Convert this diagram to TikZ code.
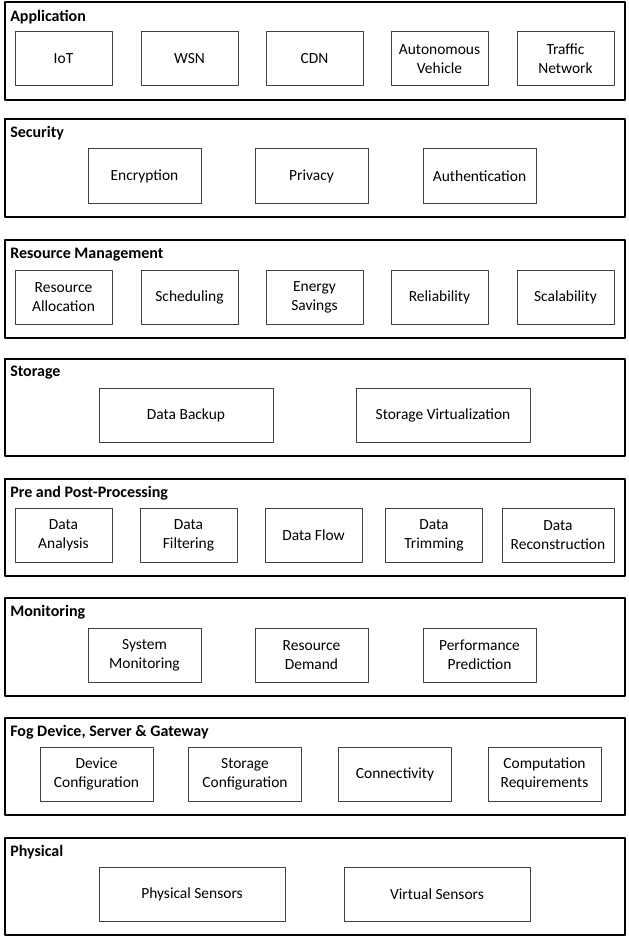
\documentclass[tikz,border=0pt]{standalone}
\usepackage{fontspec}
\setmainfont{Carlito}
\tikzset{
  layer/.style={draw, line width=1.5pt, minimum width=465pt, minimum height=73pt, inner sep=0pt},
  head/.style={anchor=west, font=\fontsize{12}{14}\selectfont\bfseries, inner sep=0pt},
  item/.style={draw=black!75, line width=.75pt, minimum width=72.75pt, minimum height=40.5pt, align=center, inner sep=1pt, font=\fontsize{11.6}{14.25}\selectfont},
  wide/.style={item, minimum width=84.75pt},
}
\begin{document}
\begin{tikzpicture}[x=.75pt, y=-.75pt, line join=round]
	\useasboundingbox (0,0) rectangle (628,938);
	% Application
	\node[layer] (app) at (314.5,51) {};
	\node[head] (tapp) at (10,17) {Application};
	\node[item] (iot) at (63.5,59) {IoT};
	\node[item] (wsn) at (189.5,59) {WSN};
	\node[item] (cdn) at (314.5,59) {CDN};
	\node[item] (auto) at (439.5,59) {Autonomous\\Vehicle};
	\node[item] (traf) at (565.5,59) {Traffic\\Network};
	% Security
	\node[layer] (sec) at (314.5,168) {};
	\node[head] (tsec) at (10,133) {Security};
	\node[wide] (enc) at (144.5,176) {Encryption};
	\node[wide] (priv) at (311.5,176) {Privacy};
	\node[wide] (auth) at (479.5,176) {Authentication};
	% Resource Management
	\node[layer] (res) at (314.5,289) {};
	\node[head] (tres) at (10,255) {Resource Management};
	\node[item] (ralloc) at (63.5,297) {Resource\\Allocation};
	\node[item] (sched) at (189.5,297) {Scheduling};
	\node[item] (energy) at (314.5,297) {Energy\\Savings};
	\node[item] (rel) at (439.5,297) {Reliability};
	\node[item] (scal) at (565.5,297) {Scalability};
	% Storage
	\node[layer] (sto) at (314.5,407.5) {};
	\node[head] (tsto) at (10,373) {Storage};
	\node[item, minimum width=130.5pt] (backup) at (186,415.5) {Data Backup};
	\node[item, minimum width=130.5pt] (virt) at (443,415.5) {Storage Virtualization};
	% Pre and Post-Processing
	\node[layer] (pre) at (314.5,527.5) {};
	\node[head] (tpre) at (10,493) {Pre and Post-Processing};
	\node[item] (anal) at (63.5,535) {Data\\Analysis};
	\node[item] (filt) at (188.5,535) {Data\\Filtering};
	\node[item] (flow) at (313.5,535) {Data Flow};
	\node[item] (trim) at (434,535) {Data\\Trimming};
	\node[item, minimum width=84pt] (recon) at (558,535) {Data\\Reconstruction};
	% Monitoring
	\node[layer] (mon) at (314.5,647) {};
	\node[head] (tmon) at (10,612) {Monitoring};
	\node[wide] (sysmon) at (144.5,655) {System\\Monitoring};
	\node[wide] (demand) at (311.5,655) {Resource\\Demand};
	\node[wide] (pred) at (479.5,655) {Performance\\Prediction};
	% Fog Device, Server & Gateway
	\node[layer] (fog) at (314.5,766.5) {};
	\node[head] (tfog) at (10,732) {Fog Device, Server \& Gateway};
	\node[wide] (devconf) at (96.5,774) {Device\\Configuration};
	\node[wide] (stoconf) at (245,774) {Storage\\Configuration};
	\node[wide] (conn) at (395,774) {Connectivity};
	\node[wide] (comp) at (544.5,774) {Computation\\Requirements};
	% Physical
	\node[layer] (phy) at (314.5,886.5) {};
	\node[head] (tphy) at (10,852) {Physical};
	\node[item, minimum width=139.5pt] (psens) at (192,894.5) {Physical Sensors};
	\node[item, minimum width=139.5pt] (vsens) at (437,894.5) {Virtual Sensors};
\end{tikzpicture}
\end{document}
